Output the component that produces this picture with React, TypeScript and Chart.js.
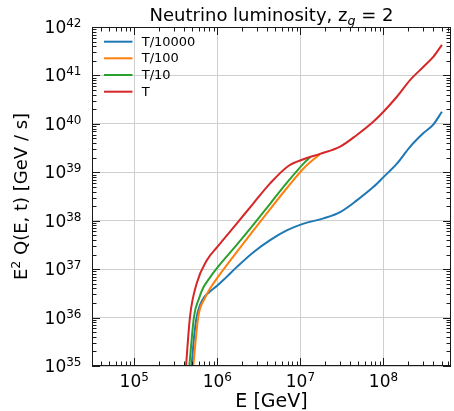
import React, { useEffect, useRef } from "react";
import { Chart, registerables } from "chart.js";

Chart.register(...registerables);

// ---------- data ----------
const seriesLabels = ["T/10000", "T/100", "T/10", "T"];
const seriesColors = ["#1f77b4", "#ff7f0e", "#2ca02c", "#d62728"];

// T/10000
const energyBlue = [4.9e5, 5.25e5, 5.62e5, 6.17e5, 6.92e5, 7.94e5, 1e6, 1.26e6, 1.71e6, 2.72e6, 4.32e6, 6.85e6, 1.09e7, 1.89e7, 3.01e7, 4.78e7, 7.59e7, 1e8, 1.45e8, 2.1e8, 3.03e8, 4.0e8, 5.05e8];
const lumBlue = [1e35, 3.98e35, 1e36, 1.78e36, 2.63e36, 3.31e36, 4.57e36, 6.61e36, 1.1e37, 2.24e37, 3.98e37, 6.3e37, 8.7e37, 1.12e38, 1.51e38, 2.63e38, 5.0e38, 7.94e38, 1.51e39, 3.39e39, 6.46e39, 9.8e39, 1.78e40];

// T/100
const energyOrange = [5.13e5, 5.9e5, 7.08e5, 8.17e5, 1e6, 1.71e6, 2.72e6, 4.32e6, 6.85e6, 1.09e7, 1.73e7];
const lumOrange = [1e35, 1.05e36, 2.51e36, 3.98e36, 6.61e36, 2.24e37, 6.31e37, 1.74e38, 4.68e38, 1.2e39, 2.4e39];

// T/10
const energyGreen = [4.6e5, 5.24e5, 6.03e5, 6.78e5, 7.94e5, 1e6, 1.71e6, 2.72e6, 4.32e6, 6.85e6, 1.09e7, 1.31e7];
const lumGreen = [1e35, 1.05e36, 2.51e36, 4.17e36, 6.31e36, 1.07e37, 3.16e37, 8.32e37, 2.24e38, 6.03e38, 1.51e39, 2.04e39];

// T
const energyRed = [4.2e5, 4.69e5, 5.65e5, 7.45e5, 1e6, 1.71e6, 2.72e6, 4.32e6, 7.16e6, 1.09e7, 1.73e7, 3.01e7, 4.78e7, 7.59e7, 1e8, 1.45e8, 2.1e8, 3.03e8, 4.0e8, 5.05e8];
const lumRed = [1e35, 1.05e36, 5.1e36, 1.51e37, 2.88e37, 8.7e37, 2.29e38, 5.9e38, 1.35e39, 1.86e39, 2.4e39, 3.39e39, 5.9e39, 1.12e40, 1.78e40, 3.63e40, 8.1e40, 1.51e41, 2.45e41, 4.27e41];

const seriesEnergies = [energyBlue, energyOrange, energyGreen, energyRed];
const seriesLums = [lumBlue, lumOrange, lumGreen, lumRed];

const xTickExponents = [5, 6, 7, 8];
const yTickExponents = [35, 36, 37, 38, 39, 40, 41, 42];
const X_MIN = 3.1e4;
const X_MAX = 6.5e8;
const Y_MIN = 1e35;
const Y_MAX = 1e42;

const titleMain = "Neutrino luminosity, z";
const titleSub = "g";
const titleEnd = " = 2";
const xLabel = "E [GeV]";
const yLabelParts = ["E", "2", " Q(E, t) [GeV / s]"];

// ---------- drawing helpers ----------
const FAM = '"DejaVu Sans", sans-serif';
type Part = { t: string; size: number; dy: number; italic?: boolean };

function partsWidth(ctx: CanvasRenderingContext2D, parts: Part[]) {
  let w = 0;
  for (const p of parts) {
    ctx.font = `${p.italic ? "italic " : ""}${p.size}px ${FAM}`;
    w += ctx.measureText(p.t).width;
  }
  return w;
}

function drawParts(ctx: CanvasRenderingContext2D, parts: Part[], x: number, y: number, align: "left" | "center" | "right") {
  const w = partsWidth(ctx, parts);
  let cx = align === "left" ? x : align === "center" ? x - w / 2 : x - w;
  ctx.textAlign = "left";
  ctx.textBaseline = "alphabetic";
  for (const p of parts) {
    ctx.font = `${p.italic ? "italic " : ""}${p.size}px ${FAM}`;
    ctx.fillText(p.t, cx, y + p.dy);
    cx += ctx.measureText(p.t).width;
  }
}

const decorPlugin = {
  id: "decor",
  afterDraw(chart: any) {
    const ctx: CanvasRenderingContext2D = chart.ctx;
    const { left, right, top, bottom } = chart.chartArea;
    const xs = chart.scales.x;
    const ys = chart.scales.y;
    ctx.save();
    ctx.fillStyle = "#000";
    ctx.strokeStyle = "#1a1a1a";
    ctx.lineWidth = 1;

    // ticks (inward, all four sides)
    ctx.beginPath();
    for (let d = Math.floor(Math.log10(X_MIN)); d <= Math.ceil(Math.log10(X_MAX)); d++) {
      for (let m = 1; m <= 9; m++) {
        const v = m * Math.pow(10, d);
        if (v < X_MIN || v > X_MAX) continue;
        const px = Math.round(xs.getPixelForValue(v)) + 0.5;
        const len = m === 1 ? 8 : 4.5;
        ctx.moveTo(px, bottom);
        ctx.lineTo(px, bottom - len);
        ctx.moveTo(px, top);
        ctx.lineTo(px, top + len);
      }
    }
    for (let d = 35; d <= 42; d++) {
      for (let m = 1; m <= 9; m++) {
        const v = m * Math.pow(10, d);
        if (v < Y_MIN || v > Y_MAX) continue;
        const py = Math.round(ys.getPixelForValue(v)) + 0.5;
        const len = m === 1 ? 8 : 4.5;
        ctx.moveTo(left, py);
        ctx.lineTo(left + len, py);
        ctx.moveTo(right, py);
        ctx.lineTo(right - len, py);
      }
    }
    ctx.stroke();
    // box
    ctx.strokeRect(left + 0.5, top + 0.5, right - left - 1, bottom - top - 1);

    // tick labels
    for (const e of yTickExponents) {
      const py = ys.getPixelForValue(Math.pow(10, e));
      drawParts(ctx, [{ t: "10", size: 17, dy: 0 }, { t: String(e), size: 12, dy: -6 }], 81.5, py + 6, "right");
    }
    for (const e of xTickExponents) {
      const px = xs.getPixelForValue(Math.pow(10, e));
      drawParts(ctx, [{ t: "10", size: 17, dy: 0 }, { t: String(e), size: 12, dy: -6 }], px, 387, "center");
    }

    // title
    const cxArea = (left + right) / 2;
    drawParts(ctx, [
      { t: titleMain, size: 18, dy: 0 },
      { t: titleSub, size: 12.6, dy: 3.5, italic: true },
      { t: titleEnd, size: 18, dy: 0 },
    ], cxArea, 21, "center");

    // x label
    drawParts(ctx, [{ t: xLabel, size: 19, dy: 0 }], cxArea, 407, "center");

    // y label
    ctx.save();
    ctx.translate(27, (top + bottom) / 2);
    ctx.rotate(-Math.PI / 2);
    drawParts(ctx, [
      { t: yLabelParts[0], size: 18, dy: 0 },
      { t: yLabelParts[1], size: 12.6, dy: -7 },
      { t: yLabelParts[2], size: 18, dy: 0 },
    ], 0, 0, "center");
    ctx.restore();

    // legend
    const rowY = [41.7, 58.3, 75, 91.7];
    seriesLabels.forEach((lab, i) => {
      ctx.strokeStyle = seriesColors[i];
      ctx.lineWidth = 2;
      ctx.beginPath();
      ctx.moveTo(104, rowY[i]);
      ctx.lineTo(132.5, rowY[i]);
      ctx.stroke();
      ctx.fillStyle = "#000";
      ctx.font = `13px ${FAM}`;
      ctx.textAlign = "left";
      ctx.textBaseline = "middle";
      ctx.fillText(lab, 141.7, rowY[i] + 0.5);
    });
    ctx.restore();
  },
};

export default function App() {
  const ref = useRef<HTMLCanvasElement>(null);
  useEffect(() => {
    if (!ref.current) return;
    const datasets = seriesLabels.map((lab, i) => ({
      label: lab,
      data: seriesEnergies[i].map((e, j) => ({ x: e, y: seriesLums[i][j] })),
      borderColor: seriesColors[i],
      backgroundColor: seriesColors[i],
      borderWidth: 2,
      pointRadius: 0,
      fill: false,
      cubicInterpolationMode: "monotone" as const,
      order: seriesLabels.length - 1 - i,
    }));
    const gridColor = "#cfcfcf";
    const chart = new Chart(ref.current, {
      type: "line",
      data: { datasets },
      options: {
        responsive: false,
        animation: false,
        events: [],
        layout: { padding: { top: 27, right: 3, left: 0, bottom: 0 } },
        plugins: { legend: { display: false }, title: { display: false }, tooltip: { enabled: false } },
        scales: {
          x: {
            type: "logarithmic",
            min: X_MIN,
            max: X_MAX,
            afterBuildTicks: (s: any) => {
              s.ticks = xTickExponents.map((e) => ({ value: Math.pow(10, e) }));
            },
            ticks: { display: false },
            grid: { color: gridColor, lineWidth: 1, drawTicks: false },
            border: { display: false },
            afterFit: (s: any) => {
              s.height = 45;
            },
          },
          y: {
            type: "logarithmic",
            min: Y_MIN,
            max: Y_MAX,
            afterBuildTicks: (s: any) => {
              s.ticks = yTickExponents.map((e) => ({ value: Math.pow(10, e) }));
            },
            ticks: { display: false },
            grid: { color: gridColor, lineWidth: 1, drawTicks: false },
            border: { display: false },
            afterFit: (s: any) => {
              s.width = 92;
            },
          },
        },
      } as any,
      plugins: [decorPlugin],
    });
    return () => chart.destroy();
  }, []);
  return (
    <div style={{ position: "absolute", left: 0, top: 0, width: 454, height: 411, background: "#fff" }}>
      <canvas ref={ref} width={454} height={411} style={{ display: "block" }} />
    </div>
  );
}
